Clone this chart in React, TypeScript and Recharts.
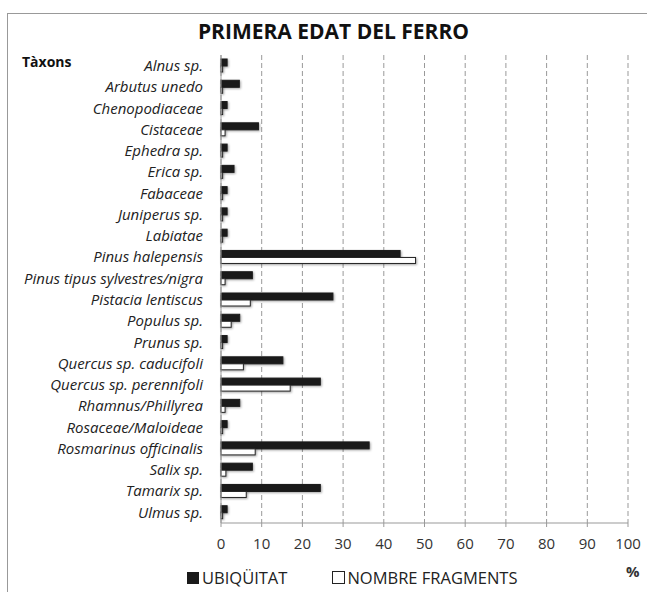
import { BarChart, Bar, XAxis, YAxis, CartesianGrid } from "recharts";

const taxa = [
  "Alnus sp.",
  "Arbutus unedo",
  "Chenopodiaceae",
  "Cistaceae",
  "Ephedra sp.",
  "Erica sp.",
  "Fabaceae",
  "Juniperus sp.",
  "Labiatae",
  "Pinus halepensis",
  "Pinus tipus sylvestres/nigra",
  "Pistacia lentiscus",
  "Populus sp.",
  "Prunus sp.",
  "Quercus sp. caducifoli",
  "Quercus sp. perennifoli",
  "Rhamnus/Phillyrea",
  "Rosaceae/Maloideae",
  "Rosmarinus officinalis",
  "Salix sp.",
  "Tamarix sp.",
  "Ulmus sp.",
];

const ubiquitat = [1.5, 4.5, 1.5, 9.2, 1.5, 3.2, 1.5, 1.5, 1.5, 44, 7.7, 27.5, 4.6, 1.5, 15.2, 24.4, 4.6, 1.5, 36.4, 7.7, 24.4, 1.5];
const fragments = [0.4, 0.4, 0.4, 1, 0.4, 0.4, 0.4, 0.4, 0.4, 47.8, 1, 7.2, 2.5, 0.4, 5.5, 17, 1, 0.4, 8.4, 1.2, 6.2, 0.4];

const xTicks = [0, 10, 20, 30, 40, 50, 60, 70, 80, 90, 100];

const data = taxa.map((t, i) => ({ taxon: t, ubiquitat: ubiquitat[i], fragments: fragments[i] }));

const FONT = "'Open Sans', sans-serif";

function ShadowBar(props: any) {
  const { x, y, width, height, fill, stroke } = props;
  if (!width || width <= 0) return null;
  return (
    <rect
      x={x}
      y={y}
      width={width}
      height={height}
      fill={fill}
      stroke={stroke}
      strokeWidth={1}
      style={{ filter: "drop-shadow(1.5px 1.5px 1px rgba(0,0,0,0.35))" }}
    />
  );
}

export default function App() {
  return (
    <div style={{ position: "fixed", inset: 0, overflow: "hidden", background: "#fff", fontFamily: FONT }}>
      <div
        style={{
          position: "absolute",
          left: 7,
          top: 13,
          width: 700,
          height: 700,
          borderLeft: "1.5px solid #999",
          borderTop: "1.5px solid #999",
        }}
      />
      <div
        style={{
          position: "absolute",
          left: 0,
          width: 667,
          top: 17,
          textAlign: "center",
          fontWeight: 700,
          fontSize: 21,
          color: "#111",
        }}
      >
        PRIMERA EDAT DEL FERRO
      </div>
      <div style={{ position: "absolute", left: 22, top: 52, fontWeight: 700, fontSize: 14, color: "#111" }}>Tàxons</div>
      <div style={{ position: "absolute", left: 0, top: 0 }}>
        <BarChart
          width={647}
          height={592}
          data={data}
          layout="vertical"
          margin={{ top: 55, right: 19, left: 0, bottom: 39 }}
          barGap={0}
        >
          <CartesianGrid horizontal={false} stroke="#999" strokeDasharray="5 3" />
          <XAxis
            type="number"
            domain={[0, 100]}
            ticks={xTicks}
            interval={0}
            height={30}
            stroke="#999"
            tickSize={4}
            tickMargin={11}
            tick={{ fill: "#333", fontSize: 15, fontFamily: FONT }}
          />
          <YAxis
            type="category"
            dataKey="taxon"
            width={221}
            interval={0}
            stroke="#999"
            tickLine={false}
            tickSize={6}
            tickMargin={12}
            tick={{ fill: "#222", fontSize: 15, fontStyle: "italic", fontFamily: FONT }}
          />
          <Bar dataKey="ubiquitat" barSize={7} fill="#1a1a1a" stroke="#1a1a1a" shape={ShadowBar} isAnimationActive={false} />
          <Bar dataKey="fragments" barSize={6} fill="#fff" stroke="#222" shape={ShadowBar} isAnimationActive={false} />
        </BarChart>
      </div>
      <div
        style={{
          position: "absolute",
          left: 187,
          top: 566,
          fontSize: 16.5,
          color: "#222",
          display: "flex",
          alignItems: "center",
        }}
      >
        <span style={{ display: "inline-block", width: 12, height: 12, background: "#1a1a1a", marginRight: 3 }} />
        <span>UBIQÜITAT</span>
        <span
          style={{
            display: "inline-block",
            width: 11,
            height: 11,
            border: "1px solid #222",
            marginLeft: 45,
            marginRight: 2,
          }}
        />
        <span>NOMBRE FRAGMENTS</span>
      </div>
      <div style={{ position: "absolute", left: 626, top: 561, fontSize: 15, fontWeight: 700, color: "#333" }}>%</div>
    </div>
  );
}
